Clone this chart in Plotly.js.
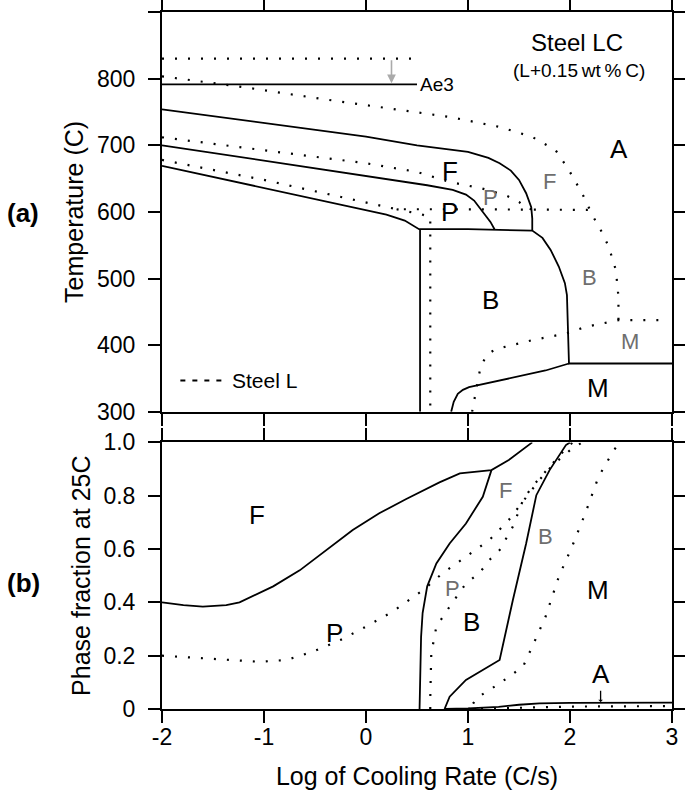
<!DOCTYPE html>
<html>
<head>
<meta charset="utf-8">
<script src="https://cdn.plot.ly/plotly-3.0.1.min.js"></script>
<style>html,body{margin:0;padding:0;background:#fff;}#chart{width:685px;height:790px;}</style>
</head>
<body>
<div id="chart"></div>
<script>
// ---------- (a) Temperature vs log cooling rate ----------
// Steel LC (solid)
const ae3LC_x = [-2, 0.5];
const ae3LC_T = [791.5, 791.5];
const fsLC_x = [-2, -1, 0, 0.5, 1.0, 1.2, 1.31, 1.42, 1.5, 1.57, 1.62, 1.63, 1.63];
const fsLC_T = [754, 734, 713, 700, 690, 681, 673, 662, 648, 628, 607, 590, 572];
const psLC_x = [-2, -1, 0, 0.33, 0.6, 0.85, 0.98, 1.06, 1.15, 1.22, 1.26];
const psLC_T = [700, 677, 654, 646, 640, 633, 626, 617, 600, 585, 574];
const bsLC_x = [-2, -1, -0.45, 0, 0.2, 0.38, 0.52, 1.0, 1.63, 1.73, 1.81, 1.89, 1.95, 1.97, 1.98, 1.99, 3.0];
const bsLC_T = [669, 636, 617, 603, 596, 587, 574, 574, 572, 561, 543, 518, 493, 475, 418, 372.5, 372.5];
const vLC_x = [0.53, 0.53];
const vLC_T = [574, 300];
const msLC_x = [0.835, 0.86, 0.9, 0.95, 1.01, 1.4, 1.76, 1.99];
const msLC_T = [300, 315, 327, 333, 337, 350, 362, 372.5];
// Steel L (dotted)
const ae3L_x = [-2, 0.47];
const ae3L_T = [830, 830];
const fsL_x = [-2, -1.17, -0.39, 0.33, 0.82, 1.31, 1.63, 1.86, 1.99, 2.12, 2.22, 2.32, 2.38, 2.45, 2.475, 2.475];
const fsL_T = [803.5, 786.5, 768.6, 752.5, 742.5, 727.5, 712.5, 692.5, 662.5, 627.5, 595, 567.5, 547.5, 512.5, 472.5, 437.5];
const psL_x = [-2, -1, 0, 0.5, 0.82, 1.14, 1.37, 1.5, 1.57, 1.62];
const psL_T = [712, 692, 673, 660, 645, 635, 625, 615, 606, 604];
const bsL_x = [-2, -1, -0.5, 0, 0.3, 0.8, 1.2, 1.7, 2.19];
const bsL_T = [678, 648, 631, 614, 604, 604, 604, 604, 603];
const vL_x = [0.3, 0.54, 0.63, 0.63];
const vL_T = [604, 596.5, 592, 300];
const msL_x = [1.04, 1.07, 1.095, 1.12, 1.18, 1.27, 1.63, 1.96, 2.155, 2.35, 2.475, 2.9];
const msL_T = [300, 325, 347, 365, 385, 394, 407.5, 417.5, 427.5, 433.5, 437.5, 437.5];

// ---------- (b) Phase fraction at 25C ----------
// Steel LC (solid)
const fLC_x = [-2, -1.79, -1.6, -1.37, -1.24, -0.91, -0.65, -0.39, -0.13, 0.13, 0.39, 0.72, 0.92, 1.23, 1.40, 1.63];
const fLC_f = [0.40, 0.39, 0.384, 0.39, 0.40, 0.46, 0.52, 0.596, 0.671, 0.734, 0.787, 0.85, 0.884, 0.896, 0.934, 1.0];
const fpLC_x = [0.525, 0.53, 0.54, 0.555, 0.6, 0.69, 0.82, 0.98, 1.145, 1.23];
const fpLC_f = [0, 0.1, 0.27, 0.36, 0.46, 0.546, 0.621, 0.696, 0.796, 0.896];
const fpbLC_x = [0.77, 0.82, 0.98, 1.31, 1.44, 1.57, 1.67, 1.80, 1.96, 2.0];
const fpbLC_f = [0, 0.046, 0.109, 0.184, 0.409, 0.621, 0.802, 0.896, 0.99, 1.0];
const aLC_x = [0.77, 1.0, 1.3, 1.5, 1.7, 2.0, 3.0];
const aLC_f = [0, 0.002, 0.008, 0.016, 0.021, 0.023, 0.024];
// Steel L (dotted)
const fL_x = [-2, -1.56, -1.04, -0.78, -0.52, -0.25, 0.0, 0.26, 0.56, 0.75, 0.98, 1.21, 1.40, 1.57, 1.70, 1.83, 2.02, 2.12];
const fL_f = [0.2, 0.19, 0.177, 0.184, 0.215, 0.259, 0.309, 0.365, 0.446, 0.509, 0.571, 0.634, 0.709, 0.796, 0.859, 0.915, 0.977, 1.0];
const fpL_x = [0.63, 0.63, 0.64, 0.69, 0.82, 0.98, 1.11, 1.21, 1.31, 1.44, 1.54, 1.63, 1.83, 1.99, 2.03];
const fpL_f = [0, 0.04, 0.209, 0.309, 0.384, 0.471, 0.509, 0.559, 0.596, 0.684, 0.784, 0.834, 0.921, 0.99, 1.0];
const fpbL_x = [1.05, 1.08, 1.31, 1.54, 1.63, 1.76, 1.89, 2.02, 2.15, 2.28, 2.43, 2.46];
const fpbL_f = [0.02, 0.04, 0.096, 0.159, 0.234, 0.346, 0.496, 0.609, 0.734, 0.871, 0.971, 0.985];
const aL_x = [1.0, 1.5, 2.0, 3.0];
const aL_f = [0, 0.004, 0.009, 0.011];

// tick labels
const xTickVals = [-2, -1, 0, 1, 2, 3];
const xTickText = ['-2', '-1', '0', '1', '2', '3'];
const fTickVals = [0, 0.2, 0.4, 0.6, 0.8, 1.0];
const fTickText = ['0', '0.2', '0.4', '0.6', '0.8', '1.0'];

const FONT = 'Liberation Sans, Arial, Helvetica, sans-serif';
const solid = {color: '#000', width: 1.8};
const dotted = {color: '#000', width: 2.2, dash: '2px,11px'};

function tr(x, y, line, ax) {
  return {x: x, y: y, mode: 'lines', line: line, xaxis: ax[0], yaxis: ax[1], hoverinfo: 'skip', showlegend: false};
}
const A = ['x2', 'y2'], B = ['x', 'y'];
const data = [
  tr(ae3LC_x, ae3LC_T, solid, A), tr(fsLC_x, fsLC_T, solid, A), tr(psLC_x, psLC_T, solid, A),
  tr(bsLC_x, bsLC_T, solid, A), tr(vLC_x, vLC_T, solid, A), tr(msLC_x, msLC_T, solid, A),
  tr(ae3L_x, ae3L_T, dotted, A), tr(fsL_x, fsL_T, dotted, A), tr(psL_x, psL_T, dotted, A),
  tr(bsL_x, bsL_T, dotted, A), tr(vL_x, vL_T, dotted, A), tr(msL_x, msL_T, dotted, A),
  tr(fLC_x, fLC_f, solid, B), tr(fpLC_x, fpLC_f, solid, B), tr(fpbLC_x, fpbLC_f, solid, B), tr(aLC_x, aLC_f, solid, B),
  tr(fL_x, fL_f, dotted, B), tr(fpL_x, fpL_f, dotted, B), tr(fpbL_x, fpbL_f, dotted, B), tr(aL_x, aL_f, dotted, B)
];

const axBase = {
  showline: true, linecolor: '#000', linewidth: 2, mirror: 'ticks',
  ticks: 'outside', ticklen: 12, tickwidth: 2, tickcolor: '#000',
  showgrid: false, zeroline: false, fixedrange: true,
  tickfont: {family: FONT, size: 23, color: '#000'}, ticklabelstandoff: 8
};

function lab(text, x, y, ax, size, color) {
  return {text: text, x: x, y: y, xref: ax[0], yref: ax[1], showarrow: false,
          xanchor: 'center', yanchor: 'middle',
          font: {family: FONT, size: size, color: color || '#000'}};
}
const GRAY = '#6e6e6e';
const annotations = [
  lab('Steel LC', 2.07, 854, A, 24),
  lab('(L+0.15\u2009wt\u2009%\u2009C)', 2.09, 812, A, 19),
  Object.assign(lab('Ae3', 0.51, 791.5, A, 19), {xanchor: 'left'}),
  lab('A', 2.48, 695, A, 26),
  lab('F', 0.82, 662, A, 26),
  lab('P', 0.82, 600, A, 26),
  lab('P', 1.22, 622, A, 22, GRAY),
  lab('F', 1.80, 645, A, 22, GRAY),
  lab('B', 2.19, 501, A, 22, GRAY),
  lab('B', 1.22, 468, A, 26),
  lab('M', 2.59, 405, A, 22, GRAY),
  lab('M', 2.27, 335, A, 26),
  Object.assign(lab('Steel L', -1.33, 347, A, 21), {xanchor: 'left'}),
  {text: '', x: 0.25, y: 793, xref: 'x2', yref: 'y2', ax: 0.25, ay: 830, axref: 'x2', ayref: 'y2',
   showarrow: true, arrowcolor: '#aaaaaa', arrowwidth: 1.6, arrowhead: 2, arrowsize: 1.1},
  lab('F', -1.07, 0.727, B, 26),
  lab('P', -0.31, 0.284, B, 26),
  lab('B', 1.03, 0.327, B, 26),
  lab('M', 2.27, 0.446, B, 26),
  lab('F', 1.37, 0.821, B, 22, GRAY),
  lab('B', 1.76, 0.646, B, 22, GRAY),
  lab('P', 0.85, 0.453, B, 22, GRAY),
  {text: 'A', x: 2.3, y: 0.026, xref: 'x', yref: 'y', ax: 2.3, ay: 0.13, axref: 'x', ayref: 'y',
   showarrow: true, arrowcolor: '#000', arrowwidth: 1.3, arrowhead: 1, arrowsize: 0.6,
   font: {family: FONT, size: 26, color: '#000'}},
  {text: '<b>(a)</b>', x: -0.272, y: 598, xref: 'paper', yref: 'y2', xanchor: 'center', yanchor: 'middle',
   showarrow: false, font: {family: FONT, size: 26, color: '#000'}},
  {text: '<b>(b)</b>', x: -0.272, y: 0.473, xref: 'paper', yref: 'y', xanchor: 'center', yanchor: 'middle',
   showarrow: false, font: {family: FONT, size: 26, color: '#000'}}
];

const shapes = [
  {type: 'line', xref: 'x2', yref: 'y2', x0: -1.82, x1: -1.40, y0: 347, y1: 347,
   line: {color: '#000', width: 2.2, dash: '5px,7px'}}
];

const layout = {
  width: 685, height: 790,
  margin: {l: 162, r: 13, t: 12, b: 81},
  paper_bgcolor: '#fff', plot_bgcolor: '#fff',
  showlegend: false,
  font: {family: FONT, color: '#000'},
  xaxis: Object.assign({}, axBase, {
    domain: [0, 1], anchor: 'y', range: [-2, 3], tickvals: xTickVals, ticktext: xTickText,
    ticklabelstandoff: -6,
    title: {text: 'Log of Cooling Rate (C/s)', font: {family: FONT, size: 25, color: '#000'}, standoff: 24}
  }),
  yaxis: Object.assign({}, axBase, {
    domain: [0, 0.3825], anchor: 'x', range: [0, 1], tickvals: fTickVals, ticktext: fTickText,
    title: {text: 'Phase fraction at 25C', font: {family: FONT, size: 25, color: '#000'}, standoff: 6}
  }),
  xaxis2: Object.assign({}, axBase, {
    domain: [0, 1], anchor: 'y2', range: [-2, 3], tickvals: xTickVals, showticklabels: false
  }),
  yaxis2: Object.assign({}, axBase, {
    domain: [0.4264, 1], anchor: 'x2', range: [300, 900], dtick: 100, tick0: 300,
    title: {text: 'Temperature (C)', font: {family: FONT, size: 25, color: '#000'}, standoff: 6}
  }),
  annotations: annotations,
  shapes: shapes
};

Plotly.newPlot('chart', data, layout, {staticPlot: true, displayModeBar: false});
</script>
</body>
</html>
